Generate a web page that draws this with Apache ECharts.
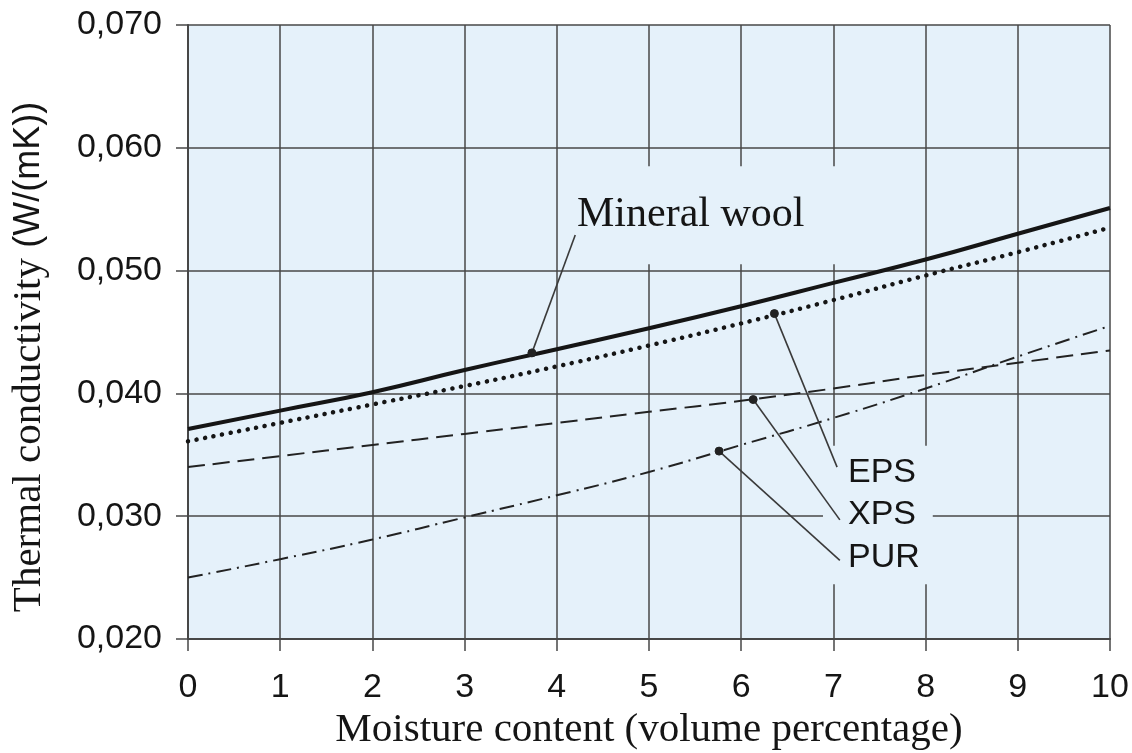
<!DOCTYPE html>
<html>
<head>
<meta charset="utf-8">
<title>Thermal conductivity vs moisture content</title>
<script src="https://cdn.jsdelivr.net/npm/echarts@6/dist/echarts.min.js"></script>
<style>
  html, body { margin: 0; padding: 0; background: #ffffff; }
  #chart { width: 1132px; height: 753px; }
</style>
</head>
<body>
<div id="chart"></div>
<script>
// Moisture content (volume %) on the x axis
const moisture = [0, 1, 2, 3, 4, 5, 6, 7, 8, 9, 10];

// Thermal conductivity W/(mK) for each material
const mineralWool = [0.0371, 0.0386, 0.0401, 0.0419, 0.0436, 0.0453, 0.0471, 0.0490, 0.0509, 0.0530, 0.0551];
const eps         = [0.0361, 0.0376, 0.0391, 0.0406, 0.0422, 0.0439, 0.0457, 0.0476, 0.0496, 0.0515, 0.0535];
const xps         = [0.0340, 0.0349, 0.0358, 0.0367, 0.0376, 0.0385, 0.0394, 0.0404, 0.0415, 0.0425, 0.0435];
const pur         = [0.0250, 0.0265, 0.0281, 0.0299, 0.0317, 0.0336, 0.0358, 0.0380, 0.0404, 0.0430, 0.0455];

const materialNames = ['Mineral wool', 'EPS', 'XPS', 'PUR'];

// Leader lines: [point on curve, end next to the label]
const leaderMineral = [[3.73, 0.0433], [4.20, 0.0529]];
const leaderEps     = [[6.36, 0.0465], [7.04, 0.0340]];
const leaderXps     = [[6.13, 0.0395], [7.07, 0.0297]];
const leaderPur     = [[5.76, 0.0353], [7.07, 0.0264]];

// Label anchors (left edge, vertical middle of each label box)
const labelMineralAt = [4.035, 0.0545];
const labelFoamsAt   = [6.887, 0.0301];

// Axis ranges
const xRange = { min: 0, max: 10, step: 1 };
const yRange = { min: 0.02, max: 0.07, step: 0.01 };

const PLOT_BG = '#e5f1fa';
const INK = '#151515';
const GRID_INK = '#474747';
const SANS = '"Liberation Sans", Arial, sans-serif';
const SERIF = '"Liberation Serif", "Times New Roman", serif';

const pairs = (xs, ys) => xs.map((x, i) => [x, ys[i]]);

function leader(points) {
  return {
    type: 'line',
    z: 5,
    silent: true,
    showSymbol: true,
    data: [
      { value: points[0], symbol: 'circle', symbolSize: 8, itemStyle: { color: '#222', borderColor: '#222' } },
      { value: points[1], symbol: 'none' }
    ],
    lineStyle: { color: '#3a3a3a', width: 1.6 },
    animation: false
  };
}

const chart = echarts.init(document.getElementById('chart'), null, { renderer: 'canvas' });

chart.setOption({
  backgroundColor: '#ffffff',
  animation: false,
  grid: {
    left: 188, right: 22, top: 25, bottom: 114,
    outerBoundsMode: 'none',
    containLabel: false,
    show: true, backgroundColor: PLOT_BG, borderWidth: 0
  },
  xAxis: {
    type: 'value',
    min: xRange.min, max: xRange.max, interval: xRange.step,
    name: 'Moisture content (volume percentage)',
    nameLocation: 'middle',
    nameGap: 68,
    nameTextStyle: { fontFamily: SERIF, fontSize: 41, color: INK },
    axisLine: { show: true, onZero: false, lineStyle: { color: GRID_INK, width: 2 } },
    axisTick: { show: true, inside: false, length: 12, lineStyle: { color: GRID_INK, width: 1.5 } },
    axisLabel: { margin: 32, fontFamily: SANS, fontSize: 34, color: INK },
    splitLine: { show: true, lineStyle: { color: GRID_INK, width: 1.5 } }
  },
  yAxis: {
    type: 'value',
    min: yRange.min, max: yRange.max, interval: yRange.step,
    name: '{a|Thermal conductivity }{b|(W/(mK))}',
    nameLocation: 'middle',
    nameGap: 138,
    nameTextStyle: {
      padding: [0, 50, 0, 0],
      rich: {
        a: { fontFamily: SERIF, fontSize: 41, color: INK },
        b: { fontFamily: SANS, fontSize: 36, color: INK }
      }
    },
    axisLine: { show: true, lineStyle: { color: GRID_INK, width: 2 } },
    axisTick: { show: true, inside: false, length: 12, lineStyle: { color: GRID_INK, width: 1.5 } },
    axisLabel: {
      margin: 26, fontFamily: SANS, fontSize: 34, color: INK,
      formatter: v => v.toFixed(3).replace('.', ',')
    },
    splitLine: { show: true, lineStyle: { color: GRID_INK, width: 1.5 } }
  },
  series: [
    {
      name: materialNames[0], type: 'line', smooth: true, symbol: 'none', z: 3,
      data: pairs(moisture, mineralWool),
      lineStyle: { color: INK, width: 4 }
    },
    {
      name: materialNames[1], type: 'line', smooth: true, symbol: 'none', z: 3,
      data: pairs(moisture, eps),
      lineStyle: { color: INK, width: 4.5, type: [0.1, 8.6], cap: 'round' }
    },
    {
      name: materialNames[2], type: 'line', smooth: true, symbol: 'none', z: 3,
      data: pairs(moisture, xps),
      lineStyle: { color: '#222', width: 2, type: [17, 8] }
    },
    {
      name: materialNames[3], type: 'line', smooth: true, symbol: 'none', z: 3,
      data: pairs(moisture, pur),
      lineStyle: { color: '#222', width: 2, type: [15, 6, 2, 6] }
    },
    // Label boxes (painted in the plot colour so grid lines stop around the text)
    {
      type: 'scatter', z: 1, silent: true,
      symbol: 'circle', symbolSize: 0,
      itemStyle: { color: 'transparent', opacity: 1 },
      data: [
        {
          value: labelMineralAt,
          label: {
            show: true, position: 'right', distance: 0,
            formatter: materialNames[0],
            fontFamily: SERIF, fontSize: 42, lineHeight: 42, color: INK,
            backgroundColor: PLOT_BG,
            padding: [26, 31, 30, 17]
          }
        },
        {
          value: labelFoamsAt,
          label: {
            show: true, position: 'right', distance: 0,
            formatter: materialNames.slice(1).join('\n'),
            fontFamily: SANS, fontSize: 34, lineHeight: 42.5, color: INK,
            backgroundColor: PLOT_BG,
            padding: [9, 13, 2, 25]
          }
        }
      ]
    },
    leader(leaderMineral),
    leader(leaderEps),
    leader(leaderXps),
    leader(leaderPur)
  ]
});
</script>
</body>
</html>
